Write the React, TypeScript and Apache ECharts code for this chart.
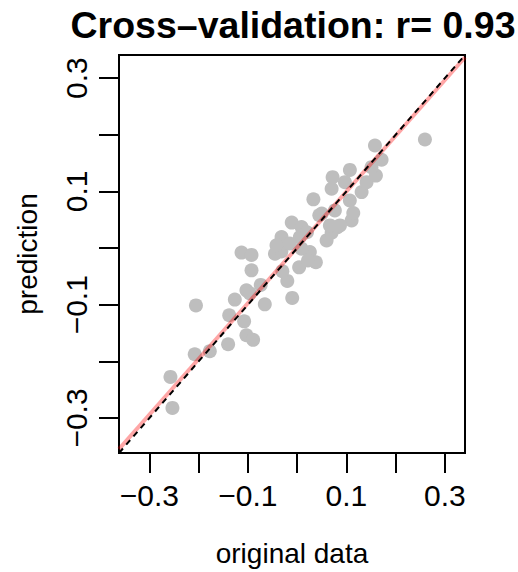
import React, { useEffect, useRef } from "react";
import * as echarts from "echarts";

const titleText = "Cross\u2013validation: r= 0.93";
const xName = "original data";
const yName = "prediction";

const axisMin = -0.3618;
const axisMax = 0.3409;

const tickValues = [-0.3, -0.2, -0.1, 0, 0.1, 0.2, 0.3];
const labelValues = [-0.3, -0.1, 0.1, 0.3];

// original data (x) values
const original = [
  -0.2533, -0.2573, -0.2055, -0.208, -0.1774, -0.1402, -0.138, -0.1266, -0.1077, -0.103,
  -0.0894, -0.096, -0.103, -0.074, -0.0657, -0.113, -0.0927, -0.0927, -0.02, -0.01,
  -0.03, -0.0317, -0.045, -0.032, -0.011, 0.0089, 0.0055, 0.02, 0.004, 0.0258,
  0.038, 0.0089, 0.0598, 0.07, 0.082, 0.1106, 0.0665, 0.045, 0.0766, 0.114,
  0.033, 0.07, 0.072, 0.1071, 0.097, 0.1309, 0.141, 0.16, 0.1715, 0.158,
  0.2595, 0.151, 0.107, 0.022, -0.015, 0.05, 0.087, -0.042,
];

// cross-validated prediction (y) values
const prediction = [
  -0.2822, -0.2275, -0.1012, -0.1875, -0.182, -0.1698, -0.1187, -0.091, -0.1293, -0.154,
  -0.162, -0.08, -0.0746, -0.065, -0.0993, -0.008, -0.012, -0.0393, -0.058, -0.088,
  -0.041, 0.0194, -0.01, -0.006, 0.045, 0.037, 0.0194, 0.028, -0.034, -0.007,
  -0.025, -0.001, 0.0136, 0.027, 0.037, 0.0489, 0.04, 0.058, 0.0665, 0.062,
  0.086, 0.1047, 0.1252, 0.138, 0.1164, 0.0988, 0.1164, 0.128, 0.1559, 0.1811,
  0.1917, 0.1429, 0.084, -0.022, 0.008, 0.061, 0.04, 0.005,
];

// fitted regression line endpoints (x, y)
const fitX = [axisMin, axisMax];
const fitY = [-0.355, 0.337];

const FONT = "'Liberation Sans', Arial, sans-serif";

export default function App() {
  const ref = useRef<HTMLDivElement>(null);

  useEffect(() => {
    if (!ref.current) return;
    const chart = echarts.init(ref.current, null, { renderer: "svg" });
    const points = original.map((x, i) => [x, prediction[i]]);
    const fmt = (v: number) => v.toFixed(1).replace("-", "\u2212");

    const axisCommon = {
      type: "value" as const,
      min: axisMin,
      max: axisMax,
      splitLine: { show: false },
      axisLine: { show: false, onZero: false },
      axisTick: {
        show: true,
        customValues: tickValues,
        length: 20,
        lineStyle: { color: "#000", width: 2 },
      },
      nameTextStyle: { color: "#000", fontSize: 28, fontFamily: FONT },
      nameLocation: "middle" as const,
    };

    chart.setOption({
      animation: false,
      backgroundColor: "#fff",
      grid: {
        left: 119,
        right: 53,
        top: 55,
        bottom: 119,
        show: true,
        borderColor: "#000",
        borderWidth: 2,
        backgroundColor: "transparent",
      },
      xAxis: {
        ...axisCommon,
        name: xName,
        nameGap: 86,
        axisLabel: {
          customValues: labelValues,
          formatter: fmt,
          color: "#000",
          fontSize: 30,
          fontFamily: FONT,
          margin: 27,
        },
      },
      yAxis: {
        ...axisCommon,
        name: yName,
        nameGap: 78,
        nameRotate: 90,
        axisLabel: {
          customValues: labelValues,
          formatter: fmt,
          color: "#000",
          fontSize: 30,
          fontFamily: FONT,
          rotate: 90,
          margin: 28,
        },
      },
      graphic: [
        {
          type: "text",
          x: 293,
          y: 25,
          style: {
            text: titleText,
            font: `bold 37.5px ${FONT}`,
            textAlign: "center",
            textVerticalAlign: "middle",
            fill: "#000",
          },
        },
      ],
      series: [
        {
          type: "scatter",
          data: points,
          symbolSize: 14,
          itemStyle: { color: "#BEBEBE", opacity: 1 },
          silent: true,
          z: 1,
        },
        {
          type: "line",
          data: fitX.map((x, i) => [x, fitY[i]]),
          symbol: "none",
          lineStyle: { color: "rgba(255,0,0,0.35)", width: 4 },
          silent: true,
          z: 2,
        },
        {
          type: "line",
          data: [
            [axisMin, axisMin],
            [axisMax, axisMax],
          ],
          symbol: "none",
          lineStyle: { color: "#000", width: 2, type: [6, 5] },
          silent: true,
          z: 3,
        },
      ],
    });
    return () => chart.dispose();
  }, []);

  return (
    <div
      ref={ref}
      style={{ position: "fixed", left: 0, top: 0, width: 518, height: 572 }}
    />
  );
}
